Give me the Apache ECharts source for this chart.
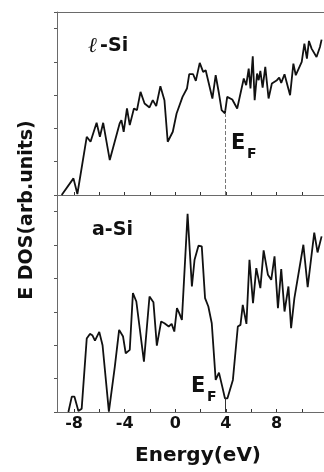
<!DOCTYPE html>
<html>
<head>
<meta charset="utf-8">
<script src="https://cdn.jsdelivr.net/npm/echarts@6/dist/echarts.min.js"></script>
<style>
html,body{margin:0;padding:0;background:#fff;}
#chart{width:324px;height:472px;}
</style>
</head>
<body>
<div id="chart"></div>
<script>
// ---- data ----
const energyTop = [-8.98,-8.05,-7.74,-7.0,-6.7,-6.22,-5.96,-5.7,-5.18,-4.4,-4.26,-4.08,-3.82,-3.6,-3.27,-3.03,-2.75,-2.43,-2.04,-1.78,-1.51,-1.18,-0.86,-0.6,-0.2,0.1,0.57,0.92,1.1,1.41,1.62,1.93,2.2,2.4,2.93,3.19,3.45,3.66,3.92,4.1,4.5,4.89,5.41,5.6,5.8,5.94,6.12,6.27,6.46,6.59,6.72,6.9,7.11,7.37,7.63,8.03,8.21,8.37,8.63,9.07,9.33,9.52,9.99,10.2,10.4,10.56,10.77,11.16,11.43,11.56];
const dosTop    = [0,0.5,0.03,1.75,1.6,2.17,1.75,2.17,1.05,2.15,2.25,1.9,2.6,2.1,2.6,2.55,3.1,2.75,2.63,2.85,2.67,3.27,2.85,1.6,1.9,2.45,2.95,3.2,3.63,3.63,3.43,3.97,3.7,3.75,2.9,3.6,3.05,2.55,2.45,2.95,2.87,2.6,3.5,3.3,3.8,3.2,4.17,2.85,3.65,3.45,3.73,3.23,3.85,2.9,3.35,3.45,3.53,3.37,3.63,3.0,3.95,3.6,4.0,4.55,4.1,4.63,4.4,4.15,4.45,4.67];

const energyBottom = [-8.45,-8.18,-7.97,-7.66,-7.4,-7.0,-6.75,-6.56,-6.35,-6.01,-5.75,-5.25,-4.78,-4.44,-4.13,-3.92,-3.6,-3.35,-3.08,-2.48,-2.04,-1.73,-1.46,-1.12,-0.86,-0.52,-0.29,-0.08,0.13,0.31,0.52,0.97,1.31,1.52,1.83,2.09,2.35,2.61,2.88,3.19,3.45,3.71,3.92,4.12,4.55,4.94,5.15,5.33,5.62,5.86,6.14,6.4,6.72,6.98,7.32,7.58,7.84,8.11,8.37,8.63,8.94,9.15,9.41,10.12,10.46,10.98,11.24,11.56];
const dosBottom    = [0,0.46,0.46,0.03,0.1,2.2,2.34,2.3,2.14,2.4,2.0,0.01,1.36,2.46,2.26,1.76,1.86,3.56,3.31,1.51,3.46,3.29,1.99,2.71,2.66,2.56,2.64,2.41,3.11,2.96,2.76,5.94,3.76,4.56,4.98,4.96,3.41,3.16,2.66,0.96,1.18,0.76,0.41,0.41,0.96,2.56,2.61,3.21,2.64,4.56,3.26,4.31,3.71,4.84,4.11,3.96,4.66,3.11,4.28,3.01,3.76,2.51,3.41,5.01,3.74,5.37,4.78,5.26];

const fermiEnergy = 3.95;
const xTickValues = [-8,-6,-4,-2,0,2,4,6,8,10];
const xLabelValues = [-8,-4,0,4,8];
const panelLabels = ['-Si', 'a-Si'];

function interp(xs, ys, x) {
  for (let i = 0; i < xs.length - 1; i++) {
    if (x >= xs[i] && x <= xs[i+1]) {
      const t = (x - xs[i]) / (xs[i+1] - xs[i]);
      return ys[i] + t * (ys[i+1] - ys[i]);
    }
  }
  return 0;
}
const zip = (a, b) => a.map((v, i) => [v, b[i]]);

const FONT = 'DejaVu Sans';
const AX = '#6a6a6a';
const X_MIN = -9.35, X_MAX = 11.75;

function xAxisCfg(idx, labels, pos) {
  return {
    type: 'value', gridIndex: idx, min: X_MIN, max: X_MAX, position: pos || 'bottom',
    splitLine: {show: false},
    axisLine: {show: true, onZero: false, lineStyle: {color: AX, width: 1}},
    axisTick: pos === 'top' ? {show: false} :
      {show: true, inside: true, length: 3, customValues: xTickValues, lineStyle: {color: '#333'}},
    axisLabel: labels ? {
      show: true, customValues: xLabelValues, margin: 4,
      fontFamily: FONT, fontWeight: 'bold', fontSize: 16, color: '#111'
    } : {show: false}
  };
}
function yAxisCfg(idx, max) {
  return {
    type: 'value', gridIndex: idx, min: 0, max: max, interval: 1,
    splitLine: {show: false},
    axisLine: {show: true, onZero: false, lineStyle: {color: AX, width: 1}},
    axisTick: {show: true, inside: false, length: 3, lineStyle: {color: '#555'}},
    axisLabel: {show: false}
  };
}

const efTop = interp(energyTop, dosTop, fermiEnergy);
const efBottom = interp(energyBottom, dosBottom, fermiEnergy);

const chart = echarts.init(document.getElementById('chart'), null, {renderer: 'canvas'});
chart.setOption({
  animation: false,
  backgroundColor: '#fff',
  grid: [
    {left: 57, top: 12, width: 272, height: 183, show: false},
    {left: 57, top: 195, width: 272, height: 217, show: false}
  ],
  xAxis: [xAxisCfg(0, false), xAxisCfg(1, true), xAxisCfg(0, false, 'top')],
  yAxis: [yAxisCfg(0, 5.5), yAxisCfg(1, 6.5)],
  series: [
    {
      type: 'line', xAxisIndex: 0, yAxisIndex: 0, data: zip(energyTop, dosTop),
      symbol: 'none', lineStyle: {color: '#111', width: 1.8}, clip: true,
      markLine: {
        silent: true, symbol: 'none', label: {show: false},
        lineStyle: {color: '#777', width: 1, type: [4, 2]},
        data: [[{coord: [fermiEnergy, 0]}, {coord: [fermiEnergy, efTop]}]]
      }
    },
    {
      type: 'line', xAxisIndex: 1, yAxisIndex: 1, data: zip(energyBottom, dosBottom),
      symbol: 'none', lineStyle: {color: '#111', width: 1.8}, clip: true,
      markLine: {
        silent: true, symbol: 'none', label: {show: false},
        lineStyle: {color: '#333', width: 1, type: 'solid'},
        data: [[{coord: [fermiEnergy, 0]}, {coord: [fermiEnergy, efBottom]}]]
      }
    }
  ],
  graphic: [
    {type: 'text', left: 88, top: 36, style: {
      text: '{l|ℓ} {s|' + panelLabels[0] + '}',
      rich: {
        l: {fontFamily: 'DejaVu Serif', fontStyle: 'italic', fontSize: 21, fill: '#111'},
        s: {fontFamily: FONT, fontWeight: 'bold', fontSize: 19, fill: '#111'}
      }
    }},
    {type: 'text', left: 92, top: 221, style: {
      text: panelLabels[1], fontFamily: FONT, fontWeight: 'bold', fontSize: 19, fill: '#111'
    }},
    {type: 'text', left: 231, top: 133, style: {text: 'E', fontFamily: FONT, fontWeight: 'bold', fontSize: 21, fill: '#111'}},
    {type: 'text', left: 247, top: 147, style: {text: 'F', fontFamily: FONT, fontWeight: 'bold', fontSize: 14, fill: '#111'}},
    {type: 'text', left: 191, top: 376, style: {text: 'E', fontFamily: FONT, fontWeight: 'bold', fontSize: 21, fill: '#111'}},
    {type: 'text', left: 207, top: 390, style: {text: 'F', fontFamily: FONT, fontWeight: 'bold', fontSize: 14, fill: '#111'}},
    {type: 'text', x: 27, y: 210, rotation: Math.PI / 2, style: {
      text: 'E DOS(arb.units)', fontFamily: FONT, fontWeight: 'bold', fontSize: 19, fill: '#111',
      align: 'center', verticalAlign: 'middle'
    }},
    {type: 'text', x: 198, y: 456, style: {
      text: 'Energy(eV)', fontFamily: FONT, fontWeight: 'bold', fontSize: 20, fill: '#111',
      align: 'center', verticalAlign: 'middle'
    }}
  ]
});
</script>
</body>
</html>
